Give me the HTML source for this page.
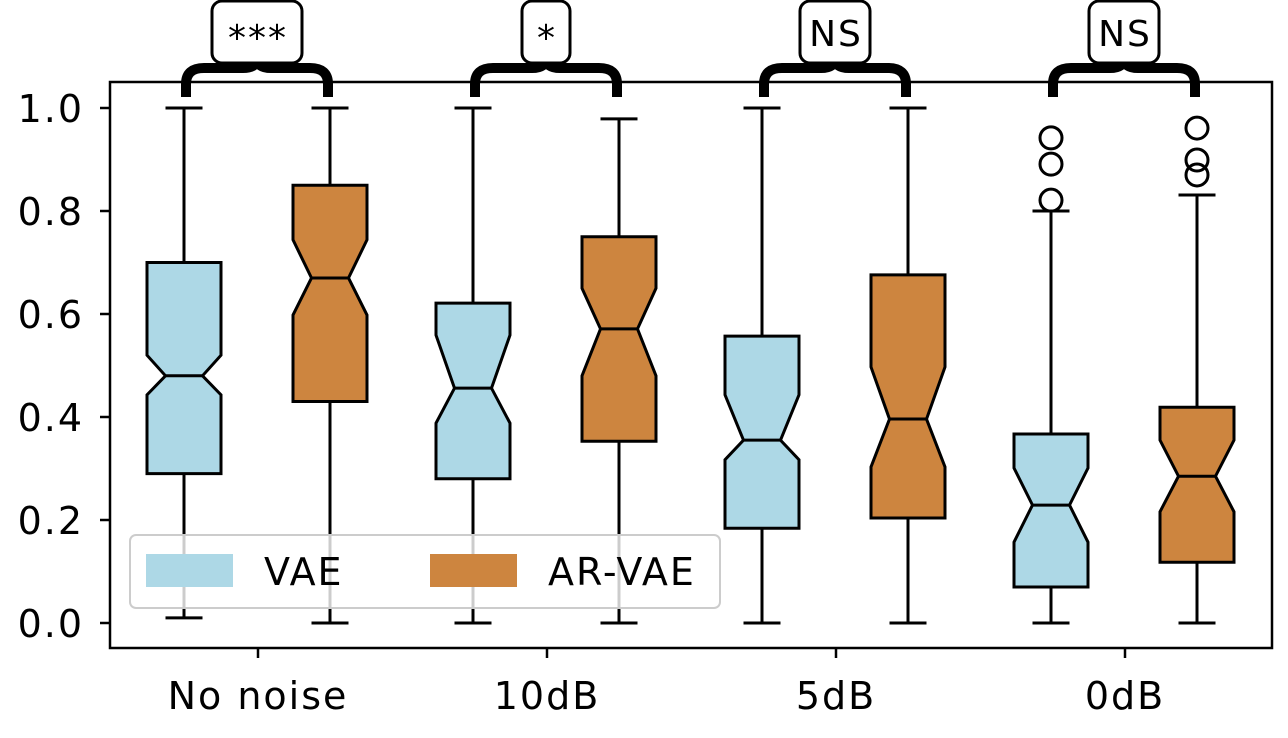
<!DOCTYPE html>
<html><head><meta charset="utf-8"><style>
body{margin:0;background:#fff}
svg text{font-family:"DejaVu Sans","Liberation Sans",sans-serif;fill:#000;letter-spacing:2px}
</style></head><body>
<svg id="c" width="1288" height="733" xmlns="http://www.w3.org/2000/svg">
<rect x="110" y="82" width="1162" height="566" fill="#fff" stroke="#000" stroke-width="2.5"/>
<g id="g"></g>
</svg>
<script>
const categories=["No noise","10dB","5dB","0dB"];
const sigLabels=["***","*","NS","NS"];
const vaeStats=[[0.01,0.29,0.48,0.70,1.0,0.443,0.52],[0.0,0.28,0.456,0.621,1.0,0.388,0.559],[0.0,0.184,0.355,0.557,1.0,0.317,0.443],[0.0,0.07,0.229,0.367,0.80,0.157,0.301]];
const arStats=[[0.0,0.43,0.67,0.85,1.0,0.598,0.744],[0.0,0.353,0.571,0.75,0.979,0.48,0.65],[0.0,0.204,0.396,0.676,1.0,0.303,0.497],[0.0,0.118,0.285,0.419,0.831,0.216,0.355]];
const vaeOutliers=[[],[],[],[0.942,0.891,0.821]];
const arOutliers=[[],[],[],[0.961,0.899,0.870]];
const yTicks=[0,0.2,0.4,0.6,0.8,1.0];
const NS="http://www.w3.org/2000/svg";
const g=document.getElementById('g');
const y=v=>623-v*515;
const xc=i=>258+i*289;
function mk(t,a){const e=document.createElementNS(NS,t);for(const k in a)e.setAttribute(k,a[k]);g.appendChild(e);return e;}
yTicks.forEach(t=>{
 const l=mk('line',{x1:100,x2:110,y1:y(t),y2:y(t),stroke:'#000','stroke-width':2.5});
 
 
 const tx=mk('text',{x:84,y:y(t)+14,'text-anchor':'end','font-size':38});tx.textContent=t.toFixed(1);
 
 
});
categories.forEach((c,i)=>{
 const l=mk('line',{x1:xc(i),x2:xc(i),y1:648,y2:658,stroke:'#000','stroke-width':2.5});
 
 
 const tx=mk('text',{x:xc(i),y:709,'text-anchor':'middle','font-size':38});tx.textContent=c;
 
 
});
function box(cx,s,col,outl,name){
 const [mn,q1,md,q3,mx,nl,nh]=s;const h=37,n=18.5;
 [[q1,mn],[q3,mx]].forEach(([a,b])=>{
  const w=mk('line',{x1:cx,x2:cx,y1:y(a),y2:y(b),stroke:'#000','stroke-width':3});
  
  
  const cp=mk('line',{x1:cx-h/2,x2:cx+h/2,y1:y(b),y2:y(b),stroke:'#000','stroke-width':3});
  
  
 });
 const L=cx-h,R=cx+h;
 const p=[[L,y(q1)],[L,y(nl)],[L+n,y(md)],[L,y(nh)],[L,y(q3)],[R,y(q3)],[R,y(nh)],[R-n,y(md)],[R,y(nl)],[R,y(q1)]];
 const b=mk('polygon',{points:p.map(q=>q.join(',')).join(' '),fill:col,stroke:'#000','stroke-width':3});
 
 
 const m=mk('line',{x1:L+n,x2:R-n,y1:y(md),y2:y(md),stroke:'#000','stroke-width':3});
 
 
 outl.forEach(o=>{const c=mk('circle',{cx:cx,cy:y(o),r:11,fill:'none',stroke:'#000','stroke-width':3});
  
  });
}
categories.forEach((c,i)=>{
 const a=xc(i)-74,b=xc(i)+72;
 box(a,vaeStats[i],'#add8e6',vaeOutliers[i],'vae');
 box(b,arStats[i],'#cd853f',arOutliers[i],'ar-vae');
 const m=(a+b)/2;
 const br=mk('path',{d:`M${a+2},97 L${a+2},84 Q${a+2},68 ${a+20},68 L${m-14},68 Q${m},68 ${m},58 Q${m},68 ${m+14},68 L${b-20},68 Q${b-2},68 ${b-2},84 L${b-2},97`,fill:'none',stroke:'#000','stroke-width':10});
 
 
 const lab=sigLabels[i];const w=lab==='*'?48:lab==='NS'?70:90;
 const r=mk('rect',{x:m-w/2,y:1,width:w,height:62,rx:10,fill:'#fff',stroke:'#000','stroke-width':3});
 
 
 const t=mk('text',{x:m+1,y:lab==='NS'?46:50,'text-anchor':'middle','font-size':36});t.textContent=lab;
 
 
});
const lg=mk('rect',{x:130,y:535,width:590,height:73,rx:6,fill:'#fff','fill-opacity':0.8,stroke:'#ccc','stroke-width':2});


[['VAE','#add8e6',146],['AR-VAE','#cd853f',430]].forEach(([n,c,x])=>{
 const r=mk('rect',{x:x,y:554,width:87,height:33,fill:c});
 
 
 const t=mk('text',{x:x+118,y:585,'font-size':38,'letter-spacing':3});t.textContent=n;
 
 
});
</script>
</body></html>
